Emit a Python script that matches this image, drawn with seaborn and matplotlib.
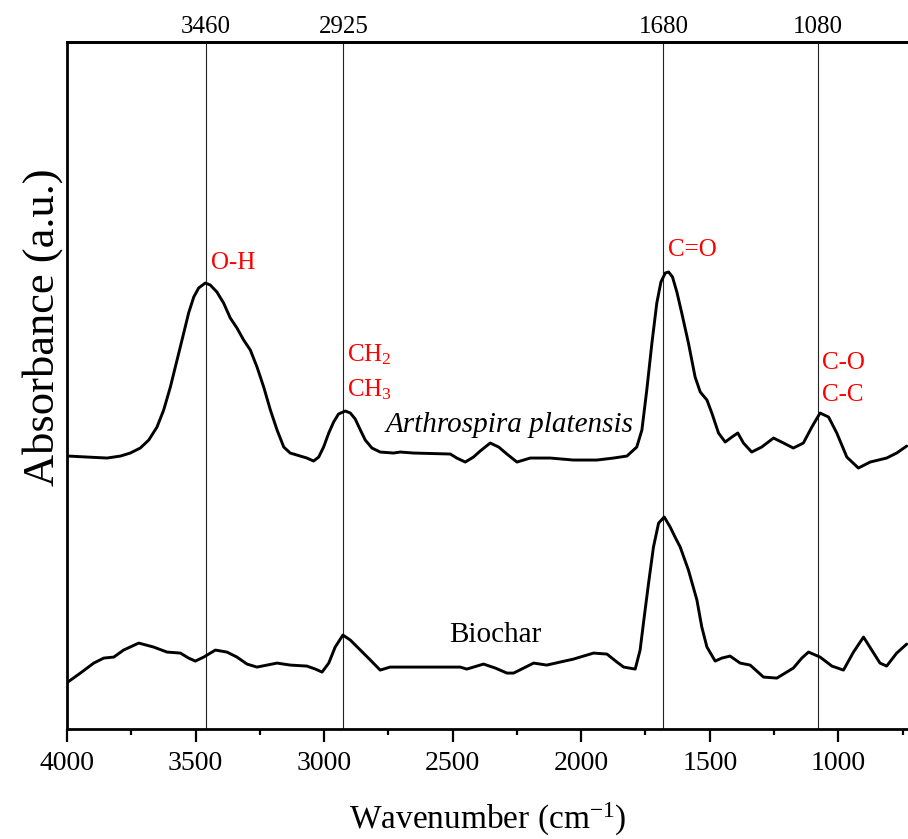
import numpy as np
import pandas as pd
import matplotlib
matplotlib.use("Agg")
import matplotlib.pyplot as plt
import seaborn as sns

# ---- data (absorbance in arbitrary units) ----
ap_wavenumber = [3997, 3922, 3844, 3792, 3754, 3715, 3682, 3650, 3624, 3598, 3572, 3546,
                 3527, 3507, 3488, 3462, 3443, 3417, 3391, 3365, 3339, 3313, 3287, 3261,
                 3235, 3209, 3183, 3157, 3132, 3093, 3067, 3041, 3021, 3002, 2982, 2963,
                 2944, 2918, 2898, 2879, 2859, 2840, 2814, 2782, 2730, 2704, 2652, 2509,
                 2484, 2451, 2419, 2393, 2354, 2321, 2289, 2250, 2224, 2198, 2121, 2030,
                 1939, 1874, 1822, 1784, 1764, 1745, 1725, 1706, 1690, 1673, 1660, 1645,
                 1628, 1609, 1583, 1557, 1537, 1511, 1492, 1466, 1440, 1414, 1391, 1369,
                 1337, 1298, 1252, 1213, 1175, 1136, 1103, 1071, 1038, 1006, 967, 922,
                 876, 812, 773, 734]
ap_absorbance = [2.73, 2.72, 2.71, 2.73, 2.76, 2.81, 2.89, 3.02, 3.19, 3.42, 3.69, 3.96,
                 4.16, 4.32, 4.41, 4.46, 4.44, 4.37, 4.26, 4.11, 4.01, 3.89, 3.79, 3.62,
                 3.42, 3.19, 2.99, 2.82, 2.76, 2.73, 2.71, 2.68, 2.72, 2.82, 2.96, 3.07,
                 3.15, 3.18, 3.16, 3.10, 2.99, 2.89, 2.81, 2.77, 2.76, 2.77, 2.76, 2.75,
                 2.71, 2.67, 2.72, 2.78, 2.86, 2.82, 2.75, 2.67, 2.69, 2.71, 2.71, 2.69,
                 2.69, 2.71, 2.73, 2.82, 2.99, 3.39, 3.86, 4.26, 4.47, 4.56, 4.57, 4.52,
                 4.37, 4.16, 3.86, 3.52, 3.37, 3.29, 3.16, 2.96, 2.87, 2.92, 2.96, 2.86,
                 2.77, 2.82, 2.91, 2.86, 2.81, 2.86, 3.02, 3.16, 3.12, 2.96, 2.72, 2.61,
                 2.67, 2.71, 2.76, 2.83]

bc_wavenumber = [3997, 3948, 3896, 3857, 3818, 3780, 3721, 3663, 3611, 3559, 3527, 3501,
                 3468, 3423, 3378, 3339, 3300, 3261, 3222, 3183, 3132, 3067, 3034, 3008,
                 2982, 2957, 2927, 2898, 2859, 2820, 2782, 2743, 2600, 2471, 2445, 2393,
                 2380, 2334, 2289, 2263, 2224, 2185, 2134, 2030, 1952, 1900, 1861, 1835,
                 1790, 1771, 1755, 1738, 1719, 1699, 1677, 1654, 1635, 1615, 1583, 1550,
                 1531, 1511, 1479, 1453, 1421, 1382, 1343, 1291, 1239, 1175, 1142, 1116,
                 1071, 1025, 980, 941, 902, 870, 838, 812, 773, 734]
bc_absorbance = [0.47, 0.56, 0.66, 0.71, 0.72, 0.79, 0.86, 0.82, 0.77, 0.76, 0.71, 0.68,
                 0.72, 0.79, 0.77, 0.72, 0.65, 0.62, 0.64, 0.66, 0.64, 0.63, 0.60, 0.57,
                 0.66, 0.82, 0.94, 0.89, 0.79, 0.69, 0.59, 0.62, 0.62, 0.62, 0.60, 0.64,
                 0.65, 0.61, 0.56, 0.56, 0.61, 0.66, 0.64, 0.70, 0.76, 0.75, 0.67, 0.62,
                 0.60, 0.79, 1.12, 1.46, 1.82, 2.06, 2.12, 2.02, 1.92, 1.82, 1.59, 1.29,
                 1.02, 0.82, 0.68, 0.71, 0.73, 0.66, 0.64, 0.52, 0.51, 0.61, 0.71, 0.77,
                 0.72, 0.63, 0.59, 0.77, 0.92, 0.79, 0.66, 0.63, 0.76, 0.85]

peak_positions = [3460, 2925, 1680, 1080]
bottom_ticks = [4000, 3500, 3000, 2500, 2000, 1500, 1000]
series_names = ["Arthrospira platensis", "Biochar"]

# ---- style ----
sns.set_style("ticks")
plt.rcParams["font.family"] = ["Liberation Serif", "DejaVu Serif"]
plt.rcParams["mathtext.fontset"] = "custom"
plt.rcParams["mathtext.rm"] = "Liberation Serif"
plt.rcParams["mathtext.it"] = "Liberation Serif:italic"
plt.rcParams["text.color"] = "black"
plt.rcParams["axes.labelcolor"] = "black"
plt.rcParams["xtick.color"] = "black"
plt.rcParams["ytick.color"] = "black"

df = pd.concat([
    pd.DataFrame({"Wavenumber": ap_wavenumber, "Absorbance": ap_absorbance, "Sample": series_names[0]}),
    pd.DataFrame({"Wavenumber": bc_wavenumber, "Absorbance": bc_absorbance, "Sample": series_names[1]}),
])

fig = plt.figure(figsize=(9.08, 8.39), dpi=100)
ax = fig.add_axes([0.0738, 0.131, 0.9262, 0.819])

sns.lineplot(data=df, x="Wavenumber", y="Absorbance", hue="Sample", units="Sample",
             estimator=None, palette=["black", "black"], linewidth=2.1, legend=False, ax=ax)

for p in peak_positions:
    ax.axvline(p, color="#222222", linewidth=0.8, zorder=1)

ax.set_xlim(4000, 729)
ax.set_ylim(0, 6.87)

ax.set_xticks(bottom_ticks)
ax.set_xticks([3750, 3250, 2750, 2250, 1750, 1250, 750], minor=True)
ax.tick_params(axis="x", which="major", direction="out", length=9, width=1.6,
               labelsize=20, pad=7, color="black", labelcolor="black")
ax.tick_params(axis="x", which="minor", direction="out", length=4.5, width=1.6, color="black")
ax.set_yticks([])

for side in ["left", "top", "bottom"]:
    ax.spines[side].set_linewidth(2.0)
    ax.spines[side].set_color("black")
ax.spines["right"].set_visible(False)

top = ax.secondary_xaxis("top")
top.set_xticks(peak_positions)
top.set_xticklabels([str(p) for p in peak_positions])
top.tick_params(axis="x", length=0, labelsize=18, pad=3, labelcolor="black")
top.spines["top"].set_linewidth(2.0)
top.spines["top"].set_color("black")

ax.set_xlabel("Wavenumber (cm$^{\\mathrm{-1}}$)", fontsize=24, labelpad=18, color="black")
ax.set_ylabel("Absorbance (a.u.)", fontsize=32, color="black")
ax.yaxis.set_label_coords(-0.005, 0.585)

red = "#ff0000"
ax.text(3440, 4.66, "O-H", color=red, fontsize=18, ha="left", va="center")
ax.text(2910, 3.74, "CH$_2$", color=red, fontsize=18, ha="left", va="center")
ax.text(2910, 3.39, "CH$_3$", color=red, fontsize=18, ha="left", va="center")
ax.text(1662, 4.79, "C=O", color=red, fontsize=18, ha="left", va="center")
ax.text(1065, 3.66, "C-O", color=red, fontsize=18, ha="left", va="center")
ax.text(1065, 3.34, "C-C", color=red, fontsize=18, ha="left", va="center")
ax.text(1798, 3.04, series_names[0], fontsize=21, style="italic", ha="right", va="center",
        color="black")
ax.text(2334, 0.94, series_names[1], fontsize=21, ha="center", va="center", color="black")

fig.savefig("out.png", dpi=100)
